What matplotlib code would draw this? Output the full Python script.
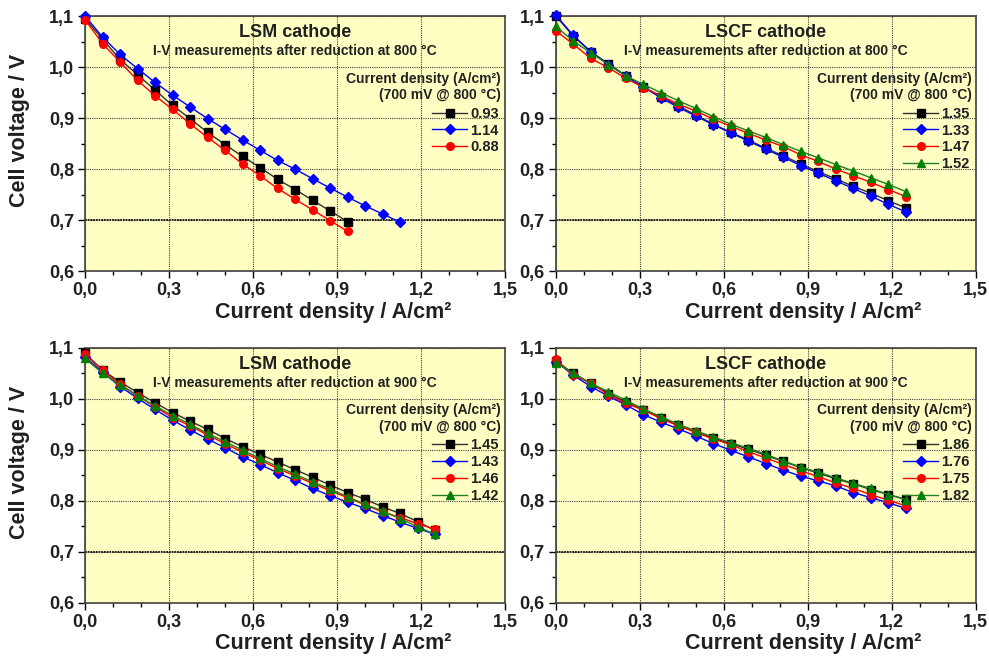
"""
I-V curves of LSM and LSCF cathode cells after reduction at 800 and 900 C.
"""
import numpy as np
import matplotlib
matplotlib.use('Agg')
import matplotlib.pyplot as plt
from matplotlib.ticker import MultipleLocator, FuncFormatter

plt.rcParams['font.family'] = ['Liberation Sans', 'DejaVu Sans']
plt.rcParams['font.weight'] = 'bold'

# current density steps (A/cm2)
x_step = 0.0625

# LSM cathode, reduction at 800 C
lsm800_black = [1.095, 1.055, 1.015, 0.985, 0.955, 0.925, 0.899, 0.872, 0.848, 0.825,
                0.803, 0.780, 0.760, 0.739, 0.718, 0.697]
lsm800_blue = [1.100, 1.059, 1.025, 0.997, 0.970, 0.945, 0.922, 0.899, 0.878, 0.857,
               0.837, 0.817, 0.800, 0.781, 0.763, 0.745, 0.728, 0.712, 0.696]
lsm800_red = [1.093, 1.046, 1.010, 0.974, 0.944, 0.917, 0.889, 0.862, 0.837, 0.810,
              0.787, 0.762, 0.741, 0.720, 0.699, 0.678]
lsm800_labels = ['0.93', '1.14', '0.88']

# LSCF cathode, reduction at 800 C
lscf800_black = [1.100, 1.061, 1.030, 1.007, 0.983, 0.961, 0.942, 0.924, 0.906, 0.888, 0.872,
                 0.857, 0.841, 0.826, 0.810, 0.795, 0.781, 0.766, 0.753, 0.738, 0.724]
lscf800_blue = [1.102, 1.062, 1.030, 1.005, 0.983, 0.961, 0.940, 0.921, 0.904, 0.887, 0.871,
                0.855, 0.839, 0.823, 0.807, 0.792, 0.777, 0.762, 0.747, 0.731, 0.716]
lscf800_red = [1.071, 1.045, 1.017, 0.999, 0.978, 0.960, 0.944, 0.927, 0.914, 0.898, 0.884,
               0.870, 0.857, 0.844, 0.828, 0.815, 0.800, 0.787, 0.774, 0.760, 0.746]
lscf800_green = [1.080, 1.051, 1.028, 1.005, 0.983, 0.966, 0.950, 0.934, 0.919, 0.903, 0.888,
                 0.875, 0.862, 0.848, 0.835, 0.822, 0.809, 0.796, 0.783, 0.770, 0.756]
lscf800_labels = ['1.35', '1.33', '1.47', '1.52']

# LSM cathode, reduction at 900 C
lsm900_black = [1.089, 1.056, 1.033, 1.012, 0.992, 0.973, 0.956, 0.940, 0.922, 0.906, 0.891,
                0.876, 0.861, 0.846, 0.831, 0.816, 0.803, 0.788, 0.775, 0.759, 0.742]
lsm900_blue = [1.082, 1.052, 1.024, 1.001, 0.979, 0.958, 0.939, 0.921, 0.904, 0.886, 0.871,
               0.855, 0.840, 0.824, 0.810, 0.797, 0.785, 0.771, 0.758, 0.746, 0.734]
lsm900_red = [1.087, 1.056, 1.028, 1.006, 0.984, 0.963, 0.947, 0.929, 0.912, 0.895, 0.880,
              0.863, 0.849, 0.834, 0.820, 0.806, 0.792, 0.778, 0.767, 0.755, 0.744]
lsm900_green = [1.079, 1.050, 1.027, 1.006, 0.986, 0.967, 0.950, 0.932, 0.916, 0.899, 0.883,
                0.867, 0.852, 0.837, 0.823, 0.808, 0.793, 0.780, 0.765, 0.749, 0.734]
lsm900_labels = ['1.45', '1.43', '1.46', '1.42']

# LSCF cathode, reduction at 900 C
lscf900_black = [1.074, 1.050, 1.030, 1.010, 0.994, 0.978, 0.963, 0.948, 0.935, 0.923, 0.912,
                 0.901, 0.889, 0.877, 0.865, 0.854, 0.843, 0.833, 0.822, 0.812, 0.803]
lscf900_blue = [1.073, 1.046, 1.024, 1.005, 0.988, 0.969, 0.954, 0.941, 0.927, 0.912, 0.899,
                0.886, 0.873, 0.860, 0.848, 0.839, 0.829, 0.816, 0.806, 0.796, 0.785]
lscf900_red = [1.077, 1.046, 1.031, 1.008, 0.991, 0.978, 0.961, 0.947, 0.934, 0.921, 0.910,
               0.896, 0.884, 0.871, 0.859, 0.847, 0.835, 0.824, 0.812, 0.801, 0.790]
lscf900_green = [1.071, 1.050, 1.030, 1.014, 0.997, 0.980, 0.965, 0.950, 0.937, 0.925, 0.914,
                 0.903, 0.891, 0.878, 0.866, 0.856, 0.845, 0.834, 0.824, 0.812, 0.802]
lscf900_labels = ['1.86', '1.76', '1.75', '1.82']

styles = [('black', 's', '#303030'), ('blue', 'D', 'blue'), ('red', 'o', 'red'), ('green', '^', '#208020')]

panels = [
    ('LSM cathode', '800', [lsm800_black, lsm800_blue, lsm800_red], lsm800_labels),
    ('LSCF cathode', '800', [lscf800_black, lscf800_blue, lscf800_red, lscf800_green], lscf800_labels),
    ('LSM cathode', '900', [lsm900_black, lsm900_blue, lsm900_red, lsm900_green], lsm900_labels),
    ('LSCF cathode', '900', [lscf900_black, lscf900_blue, lscf900_red, lscf900_green], lscf900_labels),
]

fig = plt.figure(figsize=(9.89, 6.58), dpi=100)
lefts = [0.086, 0.562]
bottoms = [0.588, 0.084]
w, h = 0.4247, 0.3875
comma = FuncFormatter(lambda v, p: ('%.1f' % v).replace('.', ','))
txtcol = '#202020'

for i, (title, temp, series, labels) in enumerate(panels):
    ax = fig.add_axes([lefts[i % 2], bottoms[i // 2], w, h])
    ax.set_facecolor('#ffffc4')
    ax.set_xlim(0, 1.5)
    ax.set_ylim(0.6, 1.1)
    ax.xaxis.set_major_locator(MultipleLocator(0.3))
    ax.xaxis.set_minor_locator(MultipleLocator(0.1))
    ax.yaxis.set_major_locator(MultipleLocator(0.1))
    ax.yaxis.set_minor_locator(MultipleLocator(0.05))
    ax.xaxis.set_major_formatter(comma)
    ax.yaxis.set_major_formatter(comma)
    ax.tick_params(which='major', length=5, width=1, labelsize=13, direction='out',
                   labelcolor=txtcol, pad=3)
    ax.tick_params(which='minor', length=3, width=1, direction='out')
    for s in ax.spines.values():
        s.set_color('#404040')
        s.set_linewidth(1.2)
    ax.grid(True, which='major', color='#404040', linestyle=(0, (1, 1)), linewidth=0.8)
    ax.axhline(0.7, color='black', linestyle=(0, (1, 0.5)), linewidth=1.3, zorder=1.5)

    handles = []
    for (mc, mk, lc), y in zip(styles, series):
        x = np.arange(len(y)) * x_step
        ln, = ax.plot(x, y, color=lc, linewidth=1.0, marker=mk, markersize=5.5 if mk != 'D' else 5,
                      markerfacecolor=mc, markeredgecolor=mc, clip_on=False, zorder=3)
        handles.append(ln)

    ax.text(0.5, 0.935, title, transform=ax.transAxes, ha='center', va='center',
            fontsize=13, fontweight='bold', color=txtcol)
    ax.text(0.5, 0.862, 'I-V measurements after reduction at %s °C' % temp, transform=ax.transAxes,
            ha='center', va='center', fontsize=10, fontweight='bold', color=txtcol)
    ax.text(0.99, 0.755, 'Current density (A/cm²)', transform=ax.transAxes, ha='right', va='center',
            fontsize=10, fontweight='bold', color=txtcol)
    ax.text(0.99, 0.69, '(700 mV @ 800 °C)', transform=ax.transAxes, ha='right', va='center',
            fontsize=10, fontweight='bold', color=txtcol)
    leg = ax.legend(handles, labels, loc='upper right', bbox_to_anchor=(0.985, 0.645), frameon=False,
                    fontsize=10.5, handlelength=2.4, handletextpad=0.2, labelspacing=0.2,
                    borderpad=0, borderaxespad=0)
    for t in leg.get_texts():
        t.set_fontweight('bold')
        t.set_color(txtcol)

    ax.set_xlabel('Current density / A/cm²', fontsize=15.5, fontweight='bold', color=txtcol)
    ax.xaxis.set_label_coords(0.59, -0.12)
    if i % 2 == 0:
        ax.set_ylabel('Cell voltage / V', fontsize=15.5, fontweight='bold', color=txtcol)
        ax.yaxis.set_label_coords(-0.13, 0.55)

fig.savefig('out.png', dpi=100)
